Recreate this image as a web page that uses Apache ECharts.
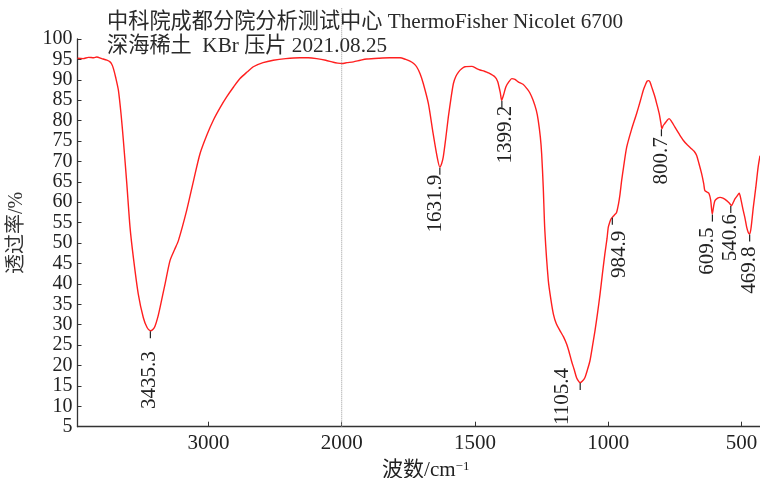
<!DOCTYPE html>
<html>
<head>
<meta charset="utf-8">
<script src="https://cdn.jsdelivr.net/npm/echarts@6/dist/echarts.min.js"></script>
<style>
html, body { margin: 0; padding: 0; background: #fff; }
#chart { width: 760px; height: 478px; }
</style>
</head>
<body>
<div id="chart"></div>
<script>
/* spectrum: wavenumber (cm-1) and transmittance (%) */
var wavenumbers = [
    3982, 3940, 3900, 3860, 3838, 3800, 3762, 3738, 3725, 3713, 3695, 3675, 3655, 3638, 3612, 3588, 3563, 3526, 3488, 3460,
    3436, 3415, 3400, 3380, 3363, 3325, 3288, 3255, 3225, 3163, 3110, 3063, 3010, 2963, 2910, 2863, 2810, 2763, 2710, 2663,
    2590, 2513, 2420, 2313, 2250, 2188, 2120, 2063, 2030, 2000, 1980, 1956, 1930, 1906, 1860, 1820, 1781, 1760, 1744, 1730,
    1719, 1706, 1694, 1675, 1657, 1642, 1632, 1625, 1619, 1610, 1600, 1590, 1581, 1572, 1562, 1550, 1538, 1512, 1495, 1481,
    1465, 1450, 1425, 1415, 1410, 1405, 1400, 1392, 1384, 1372, 1362, 1350, 1338, 1320, 1306, 1295, 1282, 1270, 1263, 1255,
    1250, 1244, 1238, 1225, 1215, 1206, 1195, 1181, 1168, 1156, 1147, 1138, 1128, 1119, 1111, 1106, 1097, 1088, 1078, 1069,
    1060, 1050, 1040, 1031, 1022, 1013, 1005, 1000, 994, 990, 985, 978, 969, 962, 956, 950, 943, 931, 913, 894,
    880, 869, 860, 854, 848, 844, 835, 825, 817, 809, 803, 799, 794, 788, 780, 772, 762, 750, 735, 719,
    703, 688, 678, 669, 660, 650, 642, 638, 630, 622, 616, 610, 605, 600, 590, 581, 570, 556, 545, 538,
    531, 525, 517, 509, 502, 494, 487, 481, 475, 470, 465, 456, 447, 438, 431
];
var transmittance = [
    95.3, 95.2, 95.5, 95.4, 95.6, 95.2, 94.8, 94.4, 93.8, 92.8, 90.5, 87.4, 81.5, 75.2, 64.5, 53.9, 46.5, 37.5, 31.7, 29.3,
    28.5, 28.9, 29.7, 31.8, 34.2, 40.0, 45.7, 48.3, 50.6, 58.0, 65.5, 71.9, 76.6, 80.1, 83.3, 85.8, 88.3, 90.3, 91.9, 93.2,
    94.2, 94.8, 95.2, 95.4, 95.4, 95.2, 94.8, 94.3, 94.1, 94.0, 94.2, 94.4, 94.8, 95.1, 95.3, 95.4, 95.4, 95.0, 94.6, 94.0,
    93.2, 91.5, 89.1, 84.2, 76.8, 71.1, 68.6, 69.5, 71.1, 75.5, 80.9, 85.5, 89.1, 90.8, 91.9, 92.7, 93.2, 93.3, 92.8, 92.4,
    92.1, 91.7, 90.7, 89.6, 88.3, 86.8, 85.0, 86.5, 88.3, 89.6, 90.3, 90.1, 89.5, 88.9, 87.9, 86.9, 85.0, 82.5, 80.1, 76.0,
    71.9, 63.7, 53.0, 40.8, 36.0, 32.6, 30.2, 28.5, 27.0, 25.2, 23.3, 21.1, 19.0, 17.0, 16.1, 15.8, 16.2, 17.0, 19.0, 21.1,
    24.5, 28.5, 33.0, 37.5, 42.5, 47.3, 51.0, 53.9, 55.2, 55.9, 56.3, 56.8, 57.5, 59.5, 62.0, 65.3, 68.5, 73.5, 77.8, 81.7,
    84.8, 87.4, 88.9, 89.7, 89.8, 89.5, 87.8, 85.8, 83.8, 81.7, 79.5, 78.0, 78.8, 79.3, 80.0, 80.5, 79.7, 78.4, 76.8, 75.2,
    74.0, 73.1, 72.5, 71.5, 69.5, 67.0, 64.5, 62.9, 62.5, 62.1, 60.5, 57.1, 59.0, 60.4, 61.0, 61.2, 61.0, 60.4, 59.7, 59.2,
    60.0, 60.8, 61.5, 62.2, 60.5, 58.0, 56.0, 53.9, 52.6, 52.2, 53.5, 58.8, 63.5, 68.6, 71.4
];

/* marked peaks */
var peakLabels = ['3435.3', '1631.9', '1399.2', '1105.4', '984.9', '800.7', '609.5', '540.6', '469.8'];
var peakWavenumbers = [3435.3, 1631.9, 1399.2, 1105.4, 984.9, 800.7, 609.5, 540.6, 469.8];
var peakTransmittance = [28.5, 68.6, 85.0, 15.8, 56.3, 78.0, 57.1, 59.2, 52.2];

/* axes */
var xTickValues = [3000, 2000, 1500, 1000, 500];
var xRange = [3982, 431];
var yRange = [5, 100];
var yStep = 5;
var scaleBreak = 2000;   // above this the axis is compressed by 2

var titleLines = ['中科院成都分院分析测试中心 ThermoFisher Nicolet 6700', '深海稀土  KBr 压片 2021.08.25'];
var xName = '波数/cm';
var yName = '透过率/%';

/* wavenumber <-> axis position (scale halves above 2000) */
function toAxis(w) {
    return w >= scaleBreak ? scaleBreak + (w - scaleBreak) / 2 : w;
}
function fromAxis(u) {
    return u >= scaleBreak ? scaleBreak + (u - scaleBreak) * 2 : u;
}

var serif = '"Liberation Serif", "Noto Sans CJK SC", serif';

var spectrum = wavenumbers.map(function (w, i) {
    return [toAxis(w), transmittance[i]];
});

// label nudges on screen, [dx, dy] px (label is rotated, so offset is given as [-dy, dx])
var labelShift = {
    '3435.3': [-1, 11], '1631.9': [-4, -2], '1399.2': [4, -4], '1105.4': [-18, -24],
    '984.9': [7, 4], '800.7': [0, -1], '609.5': [-5, 4], '540.6': [0, -1], '469.8': [0, 3]
};

var peaks = peakLabels.map(function (name, i) {
    var s = labelShift[name] || [0, 0];
    return {
        name: name,
        coord: [toAxis(peakWavenumbers[i]), peakTransmittance[i]],
        label: { offset: [-s[1], s[0]] }
    };
});

var xTicks = xTickValues.map(toAxis);

var dom = document.getElementById('chart');
var myChart = echarts.init(dom);
var option = {
    animation: false,
    backgroundColor: '#fff',
    title: {
        text: titleLines.join('\n'),
        left: 102,
        top: 5,
        textStyle: {
            fontFamily: serif,
            fontSize: 21.2,
            lineHeight: 24,
            fontWeight: 'normal',
            color: '#2a2a2a'
        }
    },
    grid: [{
        left: 77.5,
        right: 0,
        top: 39,
        bottom: 51.3,
        containLabel: false,
        outerBoundsMode: 'none'
    }, {
        left: 77.5,
        right: 0,
        top: 8,
        bottom: 51.3,
        containLabel: false,
        outerBoundsMode: 'none'
    }],
    xAxis: [{
        type: 'value',
        gridIndex: 0,
        inverse: true,
        min: toAxis(xRange[1]),
        max: toAxis(xRange[0]),
        splitLine: { show: false },
        axisLine: { lineStyle: { color: '#333', width: 1.3 } },
        axisTick: {
            inside: true,
            length: 5,
            customValues: xTicks,
            lineStyle: { color: '#333' }
        },
        axisLabel: {
            customValues: xTicks,
            margin: 6,
            color: '#222',
            fontSize: 21,
            fontFamily: serif,
            formatter: function (v) { return String(Math.round(fromAxis(v))); }
        },
        name: xName + '{sup|−1}',
        nameLocation: 'middle',
        nameGap: 33,
        nameTextStyle: {
            color: '#222',
            fontSize: 21,
            fontFamily: serif,
            padding: [0, 0, 0, 14],
            rich: {
                sup: { fontSize: 13, fontFamily: serif, color: '#222', verticalAlign: 'top', padding: [0, 0, 8, 0] }
            }
        }
    }, {
        type: 'value',
        gridIndex: 1,
        show: false,
        inverse: true,
        min: toAxis(xRange[1]),
        max: toAxis(xRange[0])
    }],
    yAxis: [{
        type: 'value',
        gridIndex: 0,
        min: yRange[0],
        max: yRange[1],
        interval: yStep,
        splitLine: { show: false },
        axisLine: { show: true, lineStyle: { color: '#333', width: 1.3 } },
        axisTick: { show: true, inside: true, length: 4, lineStyle: { color: '#333' } },
        axisLabel: {
            margin: 5,
            color: '#222',
            fontSize: 20,
            fontFamily: serif,
            showMinLabel: true,
            showMaxLabel: true,
            hideOverlap: false
        },
        name: yName,
        nameLocation: 'middle',
        nameGap: 51,
        nameTextStyle: { color: '#333', fontSize: 20, fontFamily: serif }
    }, {
        type: 'value',
        gridIndex: 1,
        show: false,
        min: 0,
        max: 1
    }],
    series: [{
        type: 'line',
        name: 'spectrum',
        xAxisIndex: 0,
        yAxisIndex: 0,
        data: spectrum,
        showSymbol: false,
        smooth: 0.25,
        lineStyle: { color: '#ff1f1f', width: 1.4 },
        markPoint: {
            silent: true,
            symbol: 'rect',
            symbolSize: [1.2, 7],
            symbolOffset: [0, 4],
            itemStyle: { color: '#222' },
            label: {
                show: true,
                formatter: '{b}',
                position: 'bottom',
                distance: 2,
                rotate: 90,
                align: 'right',
                verticalAlign: 'middle',
                color: '#222',
                fontSize: 21,
                fontFamily: serif
            },
            data: peaks
        }
    }, {
        // dotted divider where the scale changes
        type: 'line',
        xAxisIndex: 1,
        yAxisIndex: 1,
        data: [[toAxis(scaleBreak), 0], [toAxis(scaleBreak), 1]],
        showSymbol: false,
        silent: true,
        lineStyle: { color: '#999', width: 1, type: 'dotted' }
    }]
};
myChart.setOption(option);
</script>
</body>
</html>
